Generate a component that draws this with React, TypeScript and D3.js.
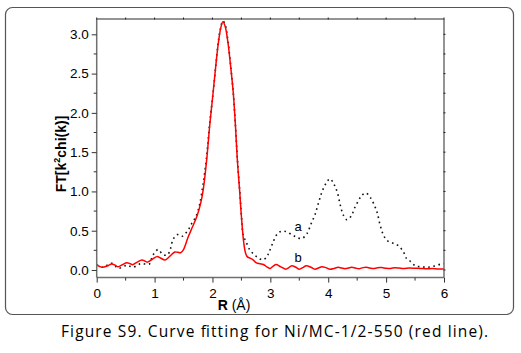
import React, { useRef, useEffect } from 'react';
import * as d3 from 'd3';

// fitted curve (b, red)
const rFit = [0, 0.05, 0.1, 0.18, 0.26, 0.32, 0.37, 0.45, 0.52, 0.58, 0.62, 0.7, 0.78, 0.83, 0.87, 0.95, 1.04, 1.11, 1.18, 1.27, 1.35, 1.4, 1.45, 1.5, 1.58, 1.65, 1.73, 1.8, 1.84, 1.9, 1.95, 2.01, 2.06, 2.1, 2.14, 2.18, 2.22, 2.27, 2.32, 2.36, 2.4, 2.43, 2.47, 2.5, 2.54, 2.57, 2.6, 2.65, 2.7, 2.76, 2.82, 2.88, 2.94, 3.0, 3.05, 3.1, 3.18, 3.27, 3.32, 3.37, 3.44, 3.5, 3.56, 3.62, 3.7, 3.77, 3.83, 3.89, 3.96, 4.03, 4.1, 4.17, 4.23, 4.29, 4.35, 4.4, 4.47, 4.53, 4.6, 4.66, 4.72, 4.78, 4.85, 4.92, 5.0, 5.08, 5.15, 5.22, 5.3, 5.4, 5.5, 5.6, 5.7, 5.8, 5.9, 6.0];
const fitValues = [0.064, 0.045, 0.034, 0.05, 0.076, 0.06, 0.04, 0.07, 0.093, 0.08, 0.068, 0.1, 0.127, 0.115, 0.1, 0.13, 0.17, 0.15, 0.127, 0.18, 0.229, 0.225, 0.22, 0.26, 0.42, 0.54, 0.68, 0.86, 1.02, 1.4, 1.82, 2.25, 2.62, 2.88, 3.07, 3.16, 3.1, 2.88, 2.55, 2.25, 1.8, 1.4, 1.0, 0.68, 0.35, 0.22, 0.17, 0.15, 0.13, 0.09, 0.08, 0.07, 0.04, 0.02, 0.05, 0.07, 0.04, 0.01, 0.03, 0.055, 0.035, 0.01, 0.03, 0.055, 0.035, 0.01, 0.025, 0.042, 0.03, 0.01, 0.02, 0.034, 0.025, 0.017, 0.025, 0.034, 0.025, 0.015, 0.03, 0.035, 0.025, 0.018, 0.028, 0.03, 0.022, 0.02, 0.028, 0.025, 0.018, 0.024, 0.022, 0.02, 0.015, 0.018, 0.012, 0.012];

// experimental curve (a, dotted)
const rExp = [0, 0.05, 0.11, 0.18, 0.26, 0.32, 0.37, 0.45, 0.52, 0.58, 0.63, 0.7, 0.76, 0.83, 0.91, 0.95, 0.99, 1.06, 1.14, 1.22, 1.27, 1.32, 1.39, 1.44, 1.48, 1.54, 1.59, 1.64, 1.7, 1.74, 1.78, 1.84, 1.9, 1.95, 2.01, 2.06, 2.1, 2.14, 2.18, 2.22, 2.27, 2.32, 2.36, 2.4, 2.43, 2.47, 2.5, 2.53, 2.58, 2.65, 2.73, 2.82, 2.88, 2.94, 2.98, 3.04, 3.11, 3.18, 3.27, 3.37, 3.45, 3.54, 3.63, 3.71, 3.77, 3.83, 3.89, 3.96, 4.03, 4.1, 4.16, 4.21, 4.26, 4.32, 4.4, 4.45, 4.52, 4.58, 4.65, 4.73, 4.81, 4.85, 4.89, 4.94, 5.01, 5.12, 5.21, 5.3, 5.35, 5.42, 5.51, 5.61, 5.7, 5.79, 5.87, 5.96, 6.0];
const expValues = [0.064, 0.05, 0.034, 0.06, 0.085, 0.05, 0.02, 0.04, 0.06, 0.045, 0.034, 0.06, 0.08, 0.076, 0.076, 0.15, 0.21, 0.26, 0.2, 0.19, 0.26, 0.39, 0.45, 0.44, 0.43, 0.47, 0.52, 0.59, 0.66, 0.73, 0.84, 1.1, 1.45, 1.85, 2.25, 2.62, 2.9, 3.08, 3.17, 3.12, 2.9, 2.56, 2.25, 1.8, 1.42, 1.02, 0.7, 0.45, 0.36, 0.25, 0.19, 0.14, 0.13, 0.17, 0.23, 0.34, 0.45, 0.49, 0.49, 0.45, 0.42, 0.4, 0.46, 0.6, 0.7, 0.85, 0.99, 1.1, 1.16, 1.09, 0.98, 0.82, 0.7, 0.64, 0.69, 0.78, 0.88, 0.95, 0.98, 0.92, 0.8, 0.72, 0.59, 0.47, 0.38, 0.34, 0.31, 0.23, 0.15, 0.11, 0.05, 0.042, 0.034, 0.042, 0.06, 0.076, 0.08];

const xTicks = [0, 1, 2, 3, 4, 5, 6];
const yTicks = [0, 0.5, 1.0, 1.5, 2.0, 2.5, 3.0];

const W = 521;
const H = 353;

export default function App() {
  const svgRef = useRef<SVGSVGElement>(null);

  useEffect(() => {
    if (!svgRef.current) return;
    const svg = d3.select(svgRef.current);
    svg.selectAll('*').remove();

    const left = 96.7, right = 444, top = 19, bottom = 277.6;
    const x = d3.scaleLinear().domain([0, 6]).range([left, right]);
    const y = d3.scaleLinear().domain([-0.097, 3.195]).range([bottom, top]);
    const axisColor = '#707070';

    // outer rounded frame
    svg.append('rect')
      .attr('x', 5.5).attr('y', 7.5)
      .attr('width', 508).attr('height', 307)
      .attr('rx', 7)
      .attr('fill', 'none')
      .attr('stroke', '#555')
      .attr('stroke-width', 1.2);

    const line = d3.line<[number, number]>()
      .x(d => x(d[0]))
      .y(d => y(d[1]))
      .curve(d3.curveCatmullRom.alpha(0.5));

    const expPts = rExp.map((r, i) => [r, expValues[i]] as [number, number]);
    const fitPts = rFit.map((r, i) => [r, fitValues[i]] as [number, number]);

    svg.append('path')
      .attr('d', line(expPts))
      .attr('fill', 'none')
      .attr('stroke', '#111')
      .attr('stroke-width', 1.6)
      .attr('stroke-dasharray', '1.6 3.6');

    svg.append('path')
      .attr('d', line(fitPts))
      .attr('fill', 'none')
      .attr('stroke', '#ff0000')
      .attr('stroke-width', 1.5);

    // frame lines
    const frame = svg.append('g').attr('stroke', axisColor).attr('stroke-width', 1.5);
    frame.append('line').attr('x1', left).attr('x2', right).attr('y1', bottom).attr('y2', bottom);
    frame.append('line').attr('x1', left).attr('x2', right).attr('y1', top).attr('y2', top);
    frame.append('line').attr('x1', left).attr('x2', left).attr('y1', top).attr('y2', bottom);
    frame.append('line').attr('x1', right).attr('x2', right).attr('y1', top).attr('y2', bottom);

    const font = 'Liberation Sans, Arial, sans-serif';

    // bottom axis
    const xAxis = d3.axisBottom(x).tickValues(xTicks).tickSize(5).tickFormat(d3.format('d'));
    const gx = svg.append('g').attr('transform', `translate(0,${bottom})`).call(xAxis);
    gx.select('.domain').remove();
    gx.selectAll('line').attr('stroke', '#333');
    gx.selectAll('text').attr('font-family', font).attr('font-size', 13.5).attr('fill', '#000').attr('dy', '0.95em');
    const xMinor = d3.range(0.5, 6, 1);
    svg.append('g').selectAll('line').data(xMinor).join('line')
      .attr('x1', d => x(d)).attr('x2', d => x(d))
      .attr('y1', bottom).attr('y2', bottom + 3)
      .attr('stroke', '#333');

    // left axis
    const yAxis = d3.axisLeft(y).tickValues(yTicks).tickSize(5).tickFormat(d3.format('.1f'));
    const gy = svg.append('g').attr('transform', `translate(${left},0)`).call(yAxis);
    gy.select('.domain').remove();
    gy.selectAll('line').attr('stroke', '#333');
    gy.selectAll('text').attr('font-family', font).attr('font-size', 13.5).attr('fill', '#000').attr('x', -8);
    const yMinor = d3.range(0.25, 3.2, 0.5);
    svg.append('g').selectAll('line').data(yMinor).join('line')
      .attr('x1', left - 3).attr('x2', left)
      .attr('y1', d => y(d)).attr('y2', d => y(d))
      .attr('stroke', '#333');

    // small marks on top and right frame
    svg.append('g').selectAll('line').data(d3.range(0, 6.01, 0.5)).join('line')
      .attr('x1', d => x(d)).attr('x2', d => x(d))
      .attr('y1', top - 1.5).attr('y2', top + 0.5)
      .attr('stroke', '#222');
    svg.append('g').selectAll('line').data(d3.range(0, 3.2, 0.25)).join('line')
      .attr('x1', right - 0.5).attr('x2', right + 1.5)
      .attr('y1', d => y(d)).attr('y2', d => y(d))
      .attr('stroke', '#222');

    // curve labels
    svg.append('text').attr('x', x(3.48)).attr('y', y(0.56)).attr('dy', '0.35em')
      .attr('text-anchor', 'middle').attr('font-family', font).attr('font-size', 13).text('a');
    svg.append('text').attr('x', x(3.48)).attr('y', y(0.155)).attr('dy', '0.35em')
      .attr('text-anchor', 'middle').attr('font-family', font).attr('font-size', 13).text('b');

    // axis titles
    const xt = svg.append('text').attr('x', 234).attr('y', 310)
      .attr('text-anchor', 'middle').attr('font-family', font).attr('font-size', 14);
    xt.append('tspan').attr('font-weight', 'bold').text('R');
    xt.append('tspan').text(' (Å)');

    const yt = svg.append('text')
      .attr('transform', 'translate(66,154) rotate(-90)')
      .attr('text-anchor', 'middle').attr('font-family', font).attr('font-size', 14)
      .attr('font-weight', 'bold');
    yt.append('tspan').text('FT[k');
    yt.append('tspan').attr('font-size', 9).attr('dy', -6).text('2');
    yt.append('tspan').attr('dy', 6).text('chi(k)]');

    // caption
    svg.append('text').attr('x', 61).attr('y', 337)
      .attr('font-family', 'Open Sans, sans-serif')
      .attr('font-size', 15.5).attr('fill', '#000')
      .attr('textLength', 427).attr('lengthAdjust', 'spacing')
      .text('Figure S9. Curve fitting for Ni/MC-1/2-550 (red line).');
  }, []);

  return (
    <svg ref={svgRef} width={W} height={H} viewBox={`0 0 ${W} ${H}`}
      style={{ position: 'absolute', left: 0, top: 0, background: '#fff' }} />
  );
}
